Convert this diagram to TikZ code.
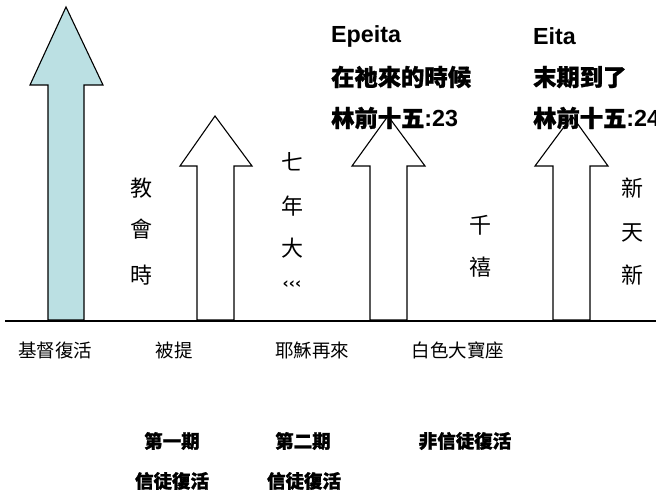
\documentclass[tikz,border=0pt]{standalone}
\usepackage{fontspec}
\newfontfamily\cjk[BoldFeatures={FakeBold=1.2}]{Noto Sans CJK TC}
\newfontfamily\lat{Liberation Sans}
\newfontfamily\symf{DejaVu Sans}
\definecolor{teal1}{RGB}{187,224,227}
\begin{document}
\begin{tikzpicture}[x=1pt,y=-1pt,
  arrowbody/.style={draw=black,line width=1.1pt,line join=miter},
  vlab/.style={inner sep=0pt,font=\cjk\fontsize{22}{22}\selectfont},
  blab/.style={inner sep=0pt,font=\cjk\fontsize{18.5}{18.5}\selectfont},
  bold/.style={inner sep=0pt,font=\cjk\bfseries\fontsize{18.5}{18.5}\selectfont},
  toplab/.style={inner sep=0pt,anchor=west,font=\cjk\bfseries\fontsize{23.3}{23.3}\selectfont}]
\useasboundingbox (0,0) rectangle (656,495);
% arrows
\draw[arrowbody,fill=teal1] (66,7) -- (103,85) -- (84,85) -- (84,320) -- (48,320) -- (48,85) -- (30,85) -- cycle;
\draw[arrowbody,fill=white] (215,116) -- (252,166) -- (234,166) -- (234,320) -- (197,320) -- (197,166) -- (180,166) -- cycle;
\draw[arrowbody,fill=white] (388,116) -- (425,166) -- (407,166) -- (407,320) -- (370,320) -- (370,166) -- (352,166) -- cycle;
\draw[arrowbody,fill=white] (572,116) -- (608,166) -- (590,166) -- (590,320) -- (553,320) -- (553,166) -- (535,166) -- cycle;
% baseline
\coordinate (L) at (5,321);
\coordinate (R) at (656,321);
\draw[line width=2pt] (L) -- (R);
% top labels
\node[toplab] (e1) at (331,36) {\lat\bfseries Epeita};
\node[toplab] (e2) at (331,77) {在祂來的時候};
\node[toplab] (e3) at (331,118) {林前十五\lat\bfseries :23};
\node[toplab] (f1) at (533,36) {\lat\bfseries Eita};
\node[toplab] (f2) at (533,77) {末期到了};
\node[toplab] (f3) at (533,118) {林前十五\lat\bfseries :24};
% vertical labels
\node[vlab] (a1) at (141,188) {教};
\node[vlab] (a2) at (141,229) {會};
\node[vlab] (a3) at (141,275) {時};
\node[vlab] (b1) at (292,162) {七};
\node[vlab] (b2) at (292,206) {年};
\node[vlab] (b3) at (292,248) {大};
\node[inner sep=0pt,font=\symf\bfseries\fontsize{15}{15}\selectfont] (b4) at (292,285) {‹‹‹};
\node[vlab] (c1) at (480,225) {千};
\node[vlab] (c2) at (480,267) {禧};
\node[vlab] (d1) at (632,188) {新};
\node[vlab] (d2) at (632,233) {天};
\node[vlab] (d3) at (632,275) {新};
% bottom labels
\node[blab] (g1) at (55,350) {基督復活};
\node[blab] (g2) at (174,350) {被提};
\node[blab] (g3) at (312,350) {耶穌再來};
\node[blab] (g4) at (458,350) {白色大寶座};
\node[bold] (h1) at (172,441) {第一期};
\node[bold] (h2) at (172,481) {信徒復活};
\node[bold] (h3) at (303,441) {第二期};
\node[bold] (h4) at (304,481) {信徒復活};
\node[bold] (h5) at (465,441) {非信徒復活};
\end{tikzpicture}
\end{document}
